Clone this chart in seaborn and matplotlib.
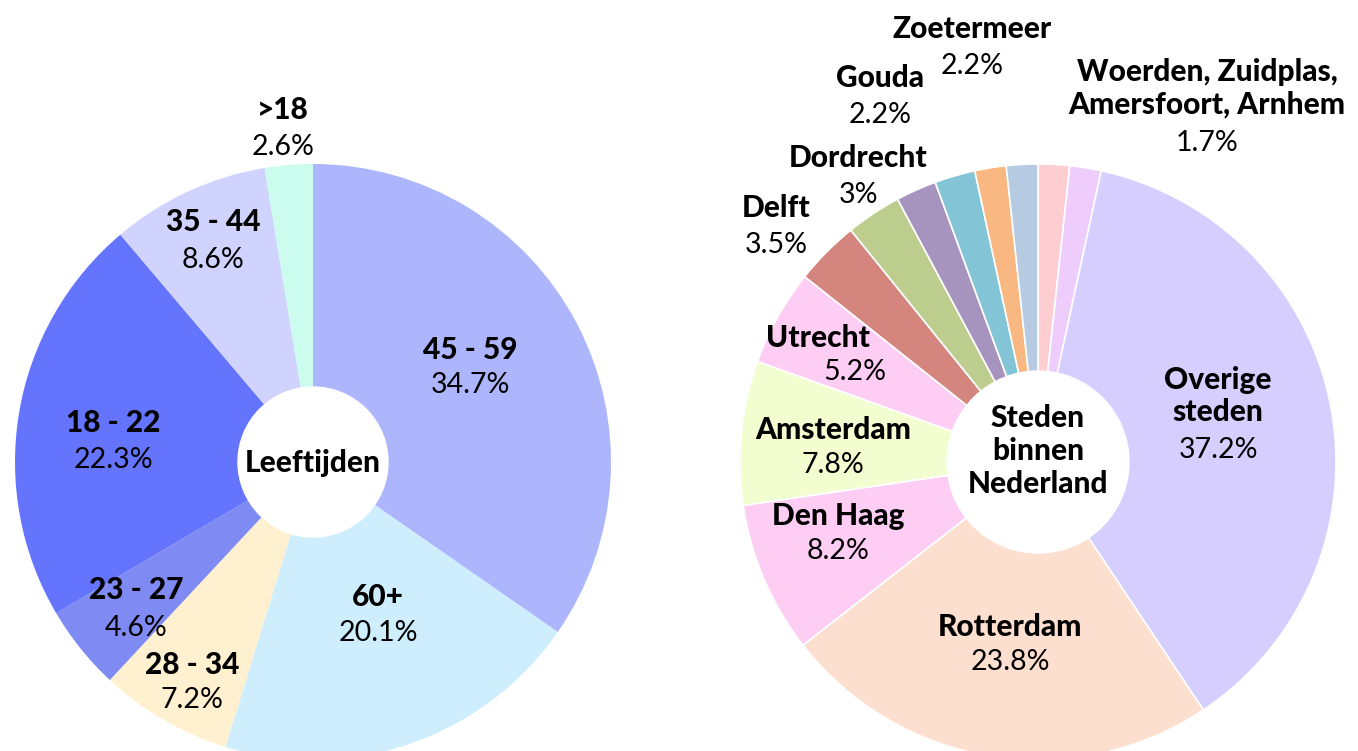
import matplotlib as mpl
mpl.use('Agg')
import matplotlib.pyplot as plt
from matplotlib.patches import Circle
import seaborn as sns

sns.set_theme(style="white")
plt.rcParams['font.family'] = ['Lato', 'DejaVu Sans']
plt.rcParams['text.color'] = 'black'

W, H = 1358, 751

# left pie: leeftijden (clockwise from 12 o'clock)
age_groups = ["45 - 59", "60+", "28 - 34", "23 - 27", "18 - 22", "35 - 44", ">18"]
age_pct = [34.7, 20.1, 7.2, 4.6, 22.3, 8.6, 2.6]
age_colors = ["#adb5fd", "#cfeefd", "#fff1cf", "#7f8bf2", "#6574fd", "#d0d3fe", "#ccfcee"]

# right pie: steden (clockwise from 12 o'clock)
cities = ["Woerden", "Zuidplas", "Overige steden", "Rotterdam", "Den Haag", "Amsterdam",
          "Utrecht", "Delft", "Dordrecht", "Gouda", "Zoetermeer", "Amersfoort", "Arnhem"]
city_pct = [1.7, 1.7, 37.2, 23.8, 8.2, 7.8, 5.2, 3.5, 3.0, 2.2, 2.2, 1.7, 1.7]
city_colors = ["#fecdd2", "#eecdfd", "#d6cefe", "#fddfcf", "#fdcdf4", "#f2fdd0",
               "#fdcdf4", "#d4857e", "#bdcd8d", "#a693be", "#83c4d6", "#f9b782", "#b6cae2"]

# label text per slice group
age_labels = [(g, f"{p:g}%") for g, p in zip(age_groups, age_pct)]
city_labels = [
    ("Overige\nsteden", "37.2%"), ("Rotterdam", "23.8%"), ("Den Haag", "8.2%"),
    ("Amsterdam", "7.8%"), ("Utrecht", "5.2%"), ("Delft", "3.5%"), ("Dordrecht", "3%"),
    ("Gouda", "2.2%"), ("Zoetermeer", "2.2%"),
    ("Woerden, Zuidplas,\nAmersfoort, Arnhem", "1.7%"),
]

# layout (pixel positions of label lines: x, y of name, y of pct)
age_pos = [(470, 350, 385), (378, 597, 633), (192, 665, 700), (136, 590, 628),
           (113, 423, 460), (213, 222, 260), (283, 110, 147)]
city_pos = [(1218, 396, 450), (1010, 627, 662), (838, 516, 551), (833, 430, 465),
            ((818, 855), 338, 372), (776, 208, 245), (858, 158, 195), (880, 78, 115),
            (972, 29, 66), (1207, 88, 143)]

LEFT_C, RIGHT_C = (313, 462), (1038, 462)
R_OUT = 298


def Y(py):
    return H - py


fig = plt.figure(figsize=(W / 100, H / 100), dpi=100)
ax = fig.add_axes([0, 0, 1, 1])

ax.pie(age_pct, colors=sns.color_palette(age_colors), startangle=90, counterclock=False,
       center=(LEFT_C[0], Y(LEFT_C[1])), radius=R_OUT,
       wedgeprops=dict(linewidth=0))
ax.pie(city_pct, colors=sns.color_palette(city_colors), startangle=90, counterclock=False,
       center=(RIGHT_C[0], Y(RIGHT_C[1])), radius=R_OUT,
       wedgeprops=dict(edgecolor='white', linewidth=1.2))

ax.add_patch(Circle((LEFT_C[0], Y(LEFT_C[1])), 75, color='white', zorder=3))
ax.add_patch(Circle((RIGHT_C[0], Y(RIGHT_C[1])), 91, color='white', zorder=3))

FS_NAME, FS_PCT = 21.5, 20.5


def put_label(name, pct, pos):
    x, yn, yp = pos
    if isinstance(x, tuple):
        xn, xp = x
    else:
        xn = xp = x
    ax.text(xn, Y(yn), name, ha='center', va='center', fontsize=FS_NAME,
            fontweight='black', linespacing=1.2, zorder=5)
    ax.text(xp, Y(yp), pct, ha='center', va='center', fontsize=FS_PCT, zorder=5)


for (name, pct), pos in zip(age_labels, age_pos):
    put_label(name, pct, pos)
for (name, pct), pos in zip(city_labels, city_pos):
    put_label(name, pct, pos)

ax.text(LEFT_C[0], Y(463), "Leeftijden", ha='center', va='center', fontsize=FS_NAME,
        fontweight='black', zorder=5)
ax.text(RIGHT_C[0], Y(451), "Steden\nbinnen\nNederland", ha='center', va='center',
        fontsize=FS_NAME, fontweight='black', linespacing=1.2, zorder=5)

ax.set_xlim(0, W)
ax.set_ylim(0, H)
ax.set_aspect('equal')
ax.axis('off')

fig.savefig("out.png", dpi=100)
